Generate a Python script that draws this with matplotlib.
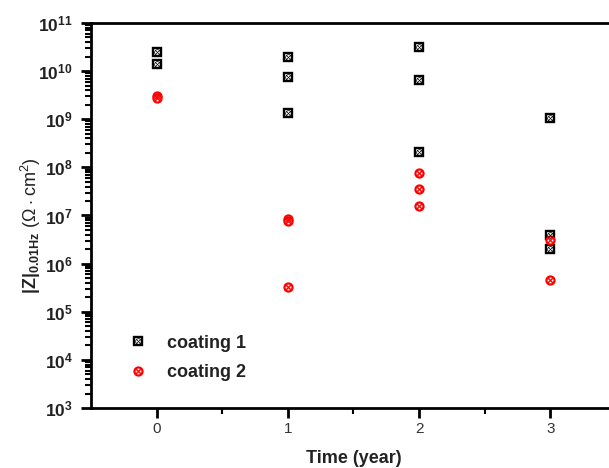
import matplotlib.pyplot as plt
import numpy as np
from matplotlib.lines import Line2D
from matplotlib.legend_handler import HandlerTuple
from matplotlib.ticker import NullFormatter, FixedLocator

plt.rcParams['font.family'] = ['Liberation Sans', 'DejaVu Sans']
plt.rcParams['mathtext.fontset'] = 'custom'
plt.rcParams['mathtext.rm'] = 'Liberation Sans'
plt.rcParams['mathtext.bf'] = 'Liberation Sans:bold'

# impedance modulus at 0.01 Hz for each exposure time
t1 = [0, 0, 1, 1, 1, 2, 2, 2, 3, 3, 3]
z1 = [2.5e10, 1.4e10, 2.0e10, 7.5e9, 1.35e9, 3.2e10, 6.5e9, 2.1e8, 1.05e9, 3.9e6, 2.0e6]
t2 = [0, 0, 1, 1, 1, 2, 2, 2, 3, 3]
z2 = [3.0e9, 2.7e9, 8.4e6, 7.6e6, 3.2e5, 7.6e7, 3.5e7, 1.6e7, 3.1e6, 4.6e5]

xticks = [0, 1, 2, 3]
decades = list(range(3, 12))
labels = ['coating 1', 'coating 2']

fig = plt.figure(figsize=(6.09, 4.68), dpi=100)
ax = fig.add_axes([0.1494, 0.1282, 0.862, 0.8227])

sq = dict(marker='s', ms=5.2, mfc='white', mec='black', mew=1.7, ls='none')
sqx = dict(marker=r'$\otimes$', ms=4.2, color='black', mew=0.2, ls='none')
ci = dict(marker='o', ms=5.8, mfc='white', mec='red', mew=1.6, ls='none')
cix = dict(marker=r'$\times$', ms=4.5, color='red', mew=0.3, ls='none')

# coating 1: square with a crossed circle
ax.plot(t1, z1, zorder=3, **sq)
ax.plot(t1, z1, zorder=4, **sqx)
# coating 2: red crossed circle
ax.plot(t2, z2, zorder=3, **ci)
ax.plot(t2, z2, zorder=4, **cix)

handles = [(Line2D([], [], **sq), Line2D([], [], **sqx)),
           (Line2D([], [], **ci), Line2D([], [], **cix))]
leg = ax.legend(handles, labels, handler_map={tuple: HandlerTuple(ndivide=1)},
                loc='lower left', bbox_to_anchor=(0.042, 0.027), frameon=False,
                fontsize=13, handlelength=1.0, handletextpad=1.1, labelspacing=0.7)
for txt in leg.get_texts():
    txt.set_fontweight('bold')
    txt.set_color('#222222')

ax.set_yscale('log')
ax.set_ylim(1e3, 1e11)
ax.set_xlim(-0.5, 3.5)
major = [10.0 ** d for d in decades]
minor = [m * 10.0 ** d for d in decades[:-1] for m in range(2, 10)]
ax.yaxis.set_major_locator(FixedLocator(major))
ax.yaxis.set_minor_locator(FixedLocator(minor))
ax.yaxis.set_minor_formatter(NullFormatter())
ax.yaxis.set_major_formatter(plt.FuncFormatter(lambda v, p: r'$\mathbf{10^{%d}}$' % round(np.log10(v))))
ax.xaxis.set_major_locator(FixedLocator(xticks))
ax.xaxis.set_minor_locator(FixedLocator([0.5, 1.5, 2.5]))

for s in ['left', 'bottom', 'top']:
    ax.spines[s].set_linewidth(2)
ax.spines['right'].set_visible(False)

ax.tick_params(which='major', direction='out', length=7, width=2)
ax.tick_params(which='minor', direction='out', length=4, width=1.5)
ax.tick_params(axis='y', which='major', labelsize=12.5, pad=6, labelcolor='#222222')
ax.tick_params(axis='x', which='major', labelsize=11, pad=3, labelcolor='#333333')
ax.tick_params(axis='y', which='both', right=False)

ax.set_xlabel('Time (year)', fontsize=13, fontweight='bold', labelpad=10, color='#222222')
ax.set_ylabel(r'$\mathbf{|Z|_{0.01Hz}}$ ($\Omega\cdot$cm$^2$)', fontsize=13,
              color='#222222')
ax.yaxis.set_label_coords(-0.091, 0.473)

fig.savefig('out.png', dpi=100)
